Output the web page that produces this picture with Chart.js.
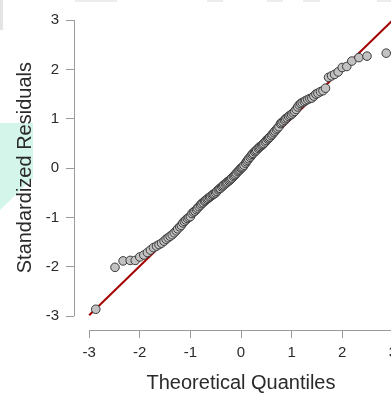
<!DOCTYPE html>
<html>
<head>
<meta charset="utf-8">
<script src="https://cdn.jsdelivr.net/npm/chart.js@4"></script>
<style>
  html, body { margin: 0; padding: 0; overflow: hidden; background: #fff; }
  #wrap { width: 420px; height: 394px; position: relative; }
</style>
</head>
<body>
<div id="wrap"><canvas id="qq"></canvas></div>
<script>
// theoretical quantiles (x) and standardized residuals (y)
const qx = [-2.87, -2.49, -2.33, -2.19, -2.09, -2.00, -1.92, -1.85, -1.79, -1.73,
  -1.67, -1.62, -1.57, -1.52, -1.48, -1.44, -1.40, -1.36, -1.32, -1.28,
  -1.25, -1.21, -1.18, -1.15, -1.12, -1.09, -1.06, -1.03, -1.00, -0.97,
  -0.94, -0.91, -0.88, -0.86, -0.83, -0.80, -0.78, -0.75, -0.72, -0.70,
  -0.67, -0.65, -0.62, -0.60, -0.57, -0.55, -0.53, -0.50, -0.48, -0.45,
  -0.43, -0.41, -0.38, -0.36, -0.34, -0.31, -0.29, -0.27, -0.24, -0.22,
  -0.20, -0.18, -0.15, -0.13, -0.11, -0.09, -0.06, -0.04, -0.02, 0.00,
  0.02, 0.04, 0.06, 0.09, 0.11, 0.13, 0.15, 0.18, 0.20, 0.22,
  0.24, 0.27, 0.29, 0.31, 0.34, 0.36, 0.38, 0.41, 0.43, 0.45,
  0.48, 0.50, 0.53, 0.55, 0.57, 0.60, 0.62, 0.65, 0.67, 0.70,
  0.72, 0.75, 0.78, 0.80, 0.83, 0.86, 0.88, 0.91, 0.94, 0.97,
  1.00, 1.03, 1.06, 1.09, 1.12, 1.15, 1.18, 1.21, 1.25, 1.28,
  1.32, 1.36, 1.40, 1.44, 1.48, 1.52, 1.57, 1.62, 1.67, 1.73,
  1.79, 1.85, 1.92, 2.00, 2.09, 2.19, 2.33, 2.49, 2.87];
const qy = [-2.86, -2.01, -1.88, -1.87, -1.87, -1.80, -1.76, -1.71, -1.66, -1.61,
  -1.58, -1.55, -1.52, -1.48, -1.44, -1.41, -1.38, -1.35, -1.31, -1.27,
  -1.23, -1.19, -1.16, -1.11, -1.08, -1.05, -1.02, -1.00, -0.98, -0.92,
  -0.89, -0.87, -0.84, -0.81, -0.78, -0.75, -0.72, -0.70, -0.67, -0.65,
  -0.63, -0.61, -0.59, -0.57, -0.55, -0.53, -0.52, -0.50, -0.47, -0.44,
  -0.42, -0.41, -0.38, -0.36, -0.34, -0.32, -0.30, -0.28, -0.26, -0.24,
  -0.22, -0.20, -0.17, -0.15, -0.13, -0.10, -0.07, -0.05, -0.03, 0.00,
  0.01, 0.03, 0.06, 0.10, 0.13, 0.16, 0.19, 0.22, 0.25, 0.28,
  0.30, 0.33, 0.35, 0.37, 0.40, 0.42, 0.44, 0.46, 0.48, 0.50,
  0.53, 0.56, 0.59, 0.61, 0.63, 0.66, 0.69, 0.72, 0.75, 0.78,
  0.81, 0.84, 0.90, 0.92, 0.94, 0.97, 1.00, 1.02, 1.05, 1.07,
  1.09, 1.12, 1.15, 1.19, 1.24, 1.28, 1.31, 1.33, 1.35, 1.37,
  1.39, 1.41, 1.42, 1.46, 1.50, 1.52, 1.55, 1.57, 1.62, 1.84,
  1.87, 1.90, 1.95, 2.04, 2.06, 2.17, 2.24, 2.27, 2.33];

// reference line
const lineX = [-3.0, 3.3];
const lineY = [-2.98, 3.3];

const xTicks = [-3, -2, -1, 0, 1, 2, 3];
const yTicks = [-3, -2, -1, 0, 1, 2, 3];

const axisColor = '#9a9a9a';
const textColor = '#2a2a2a';

Chart.defaults.font.family = "'Liberation Sans', Arial, sans-serif";

// bits of the page around the cropped figure
const backdrop = {
  id: 'backdrop',
  beforeDraw(chart) {
    const ctx = chart.ctx;
    ctx.save();
    ctx.fillStyle = 'rgb(212,245,234)';
    ctx.beginPath();
    ctx.moveTo(0, 123);
    ctx.lineTo(33, 123);
    ctx.lineTo(33, 178);
    ctx.lineTo(0, 210);
    ctx.closePath();
    ctx.fill();
    ctx.fillStyle = '#e4e4e4';
    ctx.fillRect(0, 0, 3, 30);
    ctx.fillStyle = '#ececec';
    [[75, 42], [207, 16], [267, 16], [303, 17], [377, 14]].forEach(([x, w]) => {
      ctx.fillRect(x, 0, w, 2);
    });
    ctx.restore();
  }
};

// R style axis lines: only from first to last tick
const rAxes = {
  id: 'rAxes',
  afterDraw(chart) {
    const {ctx, chartArea, scales} = chart;
    ctx.save();
    ctx.strokeStyle = axisColor;
    ctx.lineWidth = 1;
    ctx.beginPath();
    const lx = Math.round(chartArea.left) + 0.5;
    ctx.moveTo(lx, scales.y.getPixelForValue(yTicks[0]));
    ctx.lineTo(lx, scales.y.getPixelForValue(yTicks[yTicks.length - 1]));
    const by = Math.round(chartArea.bottom) + 0.5;
    ctx.moveTo(scales.x.getPixelForValue(xTicks[0]), by);
    ctx.lineTo(scales.x.getPixelForValue(xTicks[xTicks.length - 1]), by);
    ctx.stroke();
    ctx.restore();
  }
};

new Chart(document.getElementById('qq'), {
  type: 'scatter',
  data: {
    datasets: [
      {
        label: 'residuals',
        data: qx.map((x, i) => ({x: x, y: qy[i]})),
        backgroundColor: '#c2c2c2',
        borderColor: '#3a3a3a',
        borderWidth: 1,
        pointRadius: 4.3,
        order: 1
      },
      {
        type: 'line',
        label: 'qqline',
        data: lineX.map((x, i) => ({x: x, y: lineY[i]})),
        borderColor: '#a30000',
        borderWidth: 2,
        pointRadius: 0,
        fill: false,
        order: 2
      }
    ]
  },
  options: {
    responsive: true,
    maintainAspectRatio: false,
    animation: false,
    devicePixelRatio: 1,
    layout: { padding: { top: 0, right: 12, left: 0, bottom: 0 } },
    plugins: { legend: { display: false }, tooltip: { enabled: false } },
    scales: {
      x: {
        type: 'linear',
        min: -3.3,
        max: 3.3,
        afterBuildTicks: s => { s.ticks = xTicks.map(v => ({value: v})); },
        afterFit: s => { s.height = 64; s.paddingLeft = 0; s.paddingRight = 0; },
        border: { display: false },
        grid: { drawOnChartArea: false, drawTicks: true, tickLength: 8, color: axisColor, lineWidth: 1 },
        ticks: { padding: 6, color: textColor, font: { size: 15 }, maxRotation: 0 },
        title: { display: true, text: 'Theoretical Quantiles', color: textColor,
          font: { size: 20, lineHeight: 1.1 }, padding: { top: 0, bottom: 0 } }
      },
      y: {
        type: 'linear',
        min: -3.28,
        max: 3.3,
        afterBuildTicks: s => { s.ticks = yTicks.map(v => ({value: v})); },
        afterFit: s => { s.width = 74; s.paddingTop = 0; s.paddingBottom = 0; },
        border: { display: false },
        grid: { drawOnChartArea: false, drawTicks: true, tickLength: 8, color: axisColor, lineWidth: 1 },
        ticks: { padding: 7, color: textColor, font: { size: 15 } },
        title: { display: true, text: 'Standardized Residuals', color: textColor,
          font: { size: 20, lineHeight: 1.1 }, padding: { top: 14, bottom: 0 } }
      }
    }
  },
  plugins: [backdrop, rAxes]
});
</script>
</body>
</html>
